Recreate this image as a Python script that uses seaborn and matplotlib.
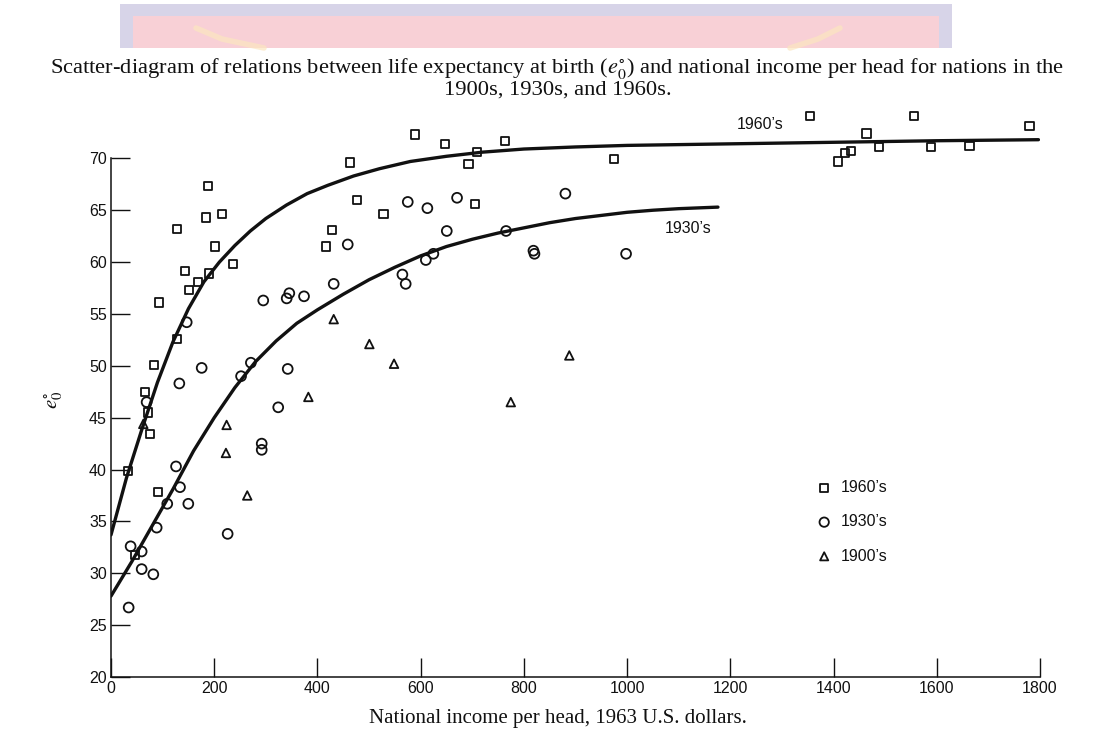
import numpy as np
import pandas as pd
import matplotlib
matplotlib.use("Agg")
import matplotlib.pyplot as plt
import seaborn as sns
from matplotlib.patches import Rectangle

# ---------------- data ----------------
inc_1960 = [589, 463, 188.6, 476, 128.5, 184, 215.7, 528, 429, 416.7, 202, 237, 144, 190.5,
            169, 151, 93.7, 128.5, 84, 66, 72, 75.6, 33.6, 90.4, 46.5, 648, 763, 708.7,
            692.6, 975.4, 705.4, 1354, 1555.6, 1779.7, 1463.8, 1488.4, 1588.6, 1663.4,
            1409, 1423, 1433.5]
e0_1960 = [72.3, 69.6, 67.3, 66.0, 63.2, 64.3, 64.6, 64.6, 63.1, 61.5, 61.5, 59.8, 59.1, 58.9,
           58.1, 57.3, 56.1, 52.6, 50.1, 47.5, 45.5, 43.4, 39.9, 37.8, 31.8, 71.4, 71.7, 70.6,
           69.5, 69.9, 65.6, 74.1, 74.1, 73.1, 72.4, 71.1, 71.1, 71.2, 69.7, 70.5, 70.7]

inc_1930 = [575, 458.7, 431.5, 295, 340.4, 345.5, 374, 564.6, 571, 146.7, 175.7, 132.4, 271,
            252, 342.4, 69, 324, 292, 292, 126, 133.7, 109, 149.8, 88.5, 226, 38, 59.4, 59.4,
            82, 34.2, 613, 670.5, 880.4, 650.6, 765.5, 624.6, 610, 818.5, 820.5, 998]
e0_1930 = [65.8, 61.7, 57.9, 56.3, 56.5, 57.0, 56.7, 58.8, 57.9, 54.2, 49.8, 48.3, 50.3,
           49.0, 49.7, 46.5, 46.0, 42.5, 41.9, 40.3, 38.3, 36.7, 36.7, 34.4, 33.8, 32.6, 32.1,
           30.4, 29.9, 26.7, 65.2, 66.2, 66.6, 63.0, 63.0, 60.8, 60.2, 61.1, 60.8, 60.8]

inc_1900 = [431.5, 500.6, 548.4, 382.4, 224, 222.7, 264, 888, 774.6, 62.6]
e0_1900 = [54.5, 52.1, 50.2, 47.0, 44.3, 41.6, 37.5, 51.0, 46.5, 44.4]

# fitted curves
curve60_x = [0, 30, 60, 90, 120, 150, 180, 210, 240, 270, 300, 340, 380, 420, 470, 520, 580,
             650, 720, 800, 900, 1000, 1200, 1400, 1600, 1797]
curve60_y = [33.7, 39.2, 43.9, 48.4, 52.3, 55.5, 58.1, 60.0, 61.6, 63.0, 64.2, 65.5, 66.6,
             67.4, 68.3, 69.0, 69.7, 70.2, 70.6, 70.9, 71.1, 71.25, 71.4, 71.55, 71.7, 71.8]
curve30_x = [0, 40, 80, 120, 160, 200, 240, 280, 320, 360, 400, 450, 500, 550, 600, 650, 700,
             750, 800, 850, 900, 950, 1000, 1050, 1100, 1176]
curve30_y = [27.8, 31.1, 34.6, 38.1, 41.8, 45.0, 47.9, 50.4, 52.4, 54.1, 55.4, 56.9, 58.3,
             59.5, 60.6, 61.5, 62.2, 62.8, 63.3, 63.8, 64.2, 64.5, 64.8, 65.0, 65.15, 65.3]

labels = ["1960\u2019s", "1930\u2019s", "1900\u2019s"]
x_ticks = list(range(0, 1801, 200))
y_ticks = list(range(20, 71, 5))

title_text = ("Scatter-diagram of relations between life expectancy at birth ($e^{\\circ}_{0}$) "
              "and national income per head for nations in the\n1900s, 1930s, and 1960s.")
x_label = "National income per head, 1963 U.S. dollars."

# ---------------- styling ----------------
sns.set_theme(style="white")
plt.rcParams['font.family'] = ['Liberation Sans', 'DejaVu Sans']
plt.rcParams['mathtext.fontset'] = 'stix'

W, H = 1115, 736
fig = plt.figure(figsize=(W / 100, H / 100), dpi=100)
fig.patch.set_facecolor('white')

# faded banner at the top of the scan
fig.patches.append(Rectangle((120 / W, 1 - 48 / H), 832 / W, 44 / H, transform=fig.transFigure,
                             facecolor='#d7d4e8', edgecolor='none', zorder=0))
fig.patches.append(Rectangle((133 / W, 1 - 48 / H), 806 / W, 32 / H, transform=fig.transFigure,
                             facecolor='#f8d0d6', edgecolor='none', zorder=0))
for xs in ([196, 222, 264], [840, 818, 790]):
    fig.lines.append(plt.Line2D([v / W for v in xs], [1 - 28 / H, 1 - 39 / H, 1 - 48 / H],
                                transform=fig.transFigure, color='#fbe6c0', lw=4, alpha=0.7,
                                solid_capstyle='round', zorder=1))

ax = fig.add_axes([111 / W, 1 - 677 / H, 929 / W, 570.5 / H])
ax.set_facecolor('none')

ink = '#111111'
sns.scatterplot(x=inc_1960, y=e0_1960, marker='s', s=34, facecolor='none', edgecolor=ink,
                linewidth=1.3, label=labels[0], ax=ax, zorder=3)
sns.scatterplot(x=inc_1930, y=e0_1930, marker='o', s=50, facecolor='none', edgecolor=ink,
                linewidth=1.3, label=labels[1], ax=ax, zorder=3)
sns.scatterplot(x=inc_1900, y=e0_1900, marker='^', s=38, facecolor='none', edgecolor=ink,
                linewidth=1.3, label=labels[2], ax=ax, zorder=3)

sns.lineplot(x=curve60_x, y=curve60_y, color=ink, lw=2.4, ax=ax, sort=True,
             estimator=None, zorder=4)
sns.lineplot(x=curve30_x, y=curve30_y, color=ink, lw=2.4, ax=ax, sort=True,
             estimator=None, zorder=4)

ax.text(1258, 73.3, labels[0], ha='center', va='center', fontsize=11.5, color=ink)
ax.text(1119, 63.2, labels[1], ha='center', va='center', fontsize=11.5, color=ink)

ax.set_xlim(0, 1800)
ax.set_ylim(20, 75)
ax.set_xticks(x_ticks)
ax.set_yticks(y_ticks)
ax.set_xticklabels([str(v) for v in x_ticks])
ax.set_yticklabels([str(v) for v in y_ticks])
ax.tick_params(axis='both', direction='in', length=13.5, width=1.0, colors=ink,
               labelsize=11.5, pad=3, left=True, bottom=True)
for side in ['top', 'right']:
    ax.spines[side].set_visible(False)
for side in ['left', 'bottom']:
    ax.spines[side].set_color(ink)
    ax.spines[side].set_linewidth(1.1)
ax.spines['left'].set_bounds(20, 70)
ax.grid(False)

ax.set_ylabel(r'$e^{\circ}_{0}$', fontsize=15, color=ink)
ax.yaxis.set_label_coords(-0.050, 0.486)
ax.set_xlabel(x_label, fontsize=15, family=['Liberation Serif', 'DejaVu Serif'], color=ink,
              va='center')
ax.xaxis.set_label_coords(0.481, -0.072)

leg = ax.legend(loc='upper left', bbox_to_anchor=(0.7505, 0.359), frameon=False, fontsize=11.5,
                handlelength=1.0, handletextpad=0.55, labelspacing=1.2, borderpad=0,
                markerscale=0.95)
for t in leg.get_texts():
    t.set_color(ink)

fig.text(0.5, 1 - 78 / H, title_text, ha='center', va='center', multialignment='center',
         fontsize=16.2, linespacing=0.9, family=['Liberation Serif', 'DejaVu Serif'],
         color=ink)

fig.savefig('out.png', dpi=100)
